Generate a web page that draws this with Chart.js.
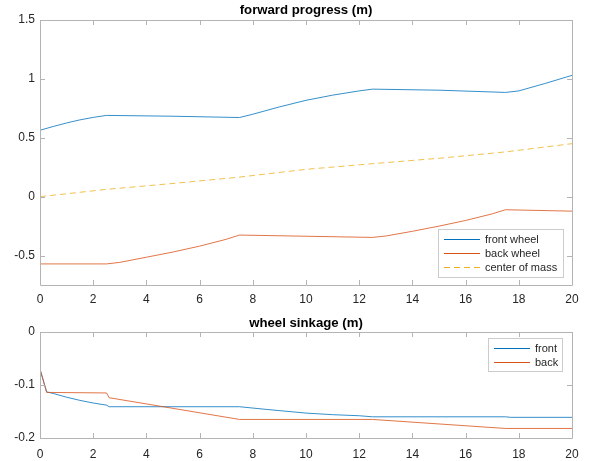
<!DOCTYPE html>
<html lang="en">
<head>
<meta charset="UTF-8">
<title>forward progress / wheel sinkage</title>
<script src="https://cdn.jsdelivr.net/npm/chart.js"></script>
<style>
  body { margin: 0; background: #fff; }
  .fig { position: relative; width: 589px; height: 461px; }
  .fig canvas { position: absolute; left: 0; }
  #progress { top: 0; }
  #sinkage { top: 305px; }
</style>
</head>
<body>
<div class="fig">
  <canvas id="progress" width="589" height="310"></canvas>
  <canvas id="sinkage" width="589" height="156"></canvas>
</div>

<script>
// tick labels
const xTicks = [0, 2, 4, 6, 8, 10, 12, 14, 16, 18, 20];
const progressTicks = [-0.5, 0, 0.5, 1, 1.5];
const sinkTicks = [-0.2, -0.1, 0];

// forward progress (m)
const frontT    = [0, 0.5, 1, 1.5, 2, 2.5, 5, 7.5, 8, 9, 10, 11, 12, 12.5, 15, 17.5, 18, 19, 20];
const frontProg = [0.564, 0.596, 0.626, 0.652, 0.673, 0.69, 0.683, 0.672, 0.70, 0.762, 0.818, 0.862, 0.898, 0.913, 0.904, 0.885, 0.898, 0.962, 1.03];
const backT     = [0, 2.5, 3, 4, 5, 6, 7, 7.5, 10, 12.5, 13, 14, 15, 16, 17, 17.5, 20];
const backProg  = [-0.571, -0.571, -0.558, -0.514, -0.47, -0.42, -0.362, -0.326, -0.336, -0.346, -0.334, -0.294, -0.25, -0.202, -0.146, -0.111, -0.123];
const comT      = [0, 2.5, 5, 7.5, 10, 12.5, 15, 17.5, 20];
const comProg   = [0, 0.062, 0.112, 0.166, 0.232, 0.28, 0.326, 0.38, 0.45];

// wheel sinkage (m)
const frontSinkT = [0, 0.25, 0.5, 1, 1.5, 2, 2.5, 2.6, 7.5, 8.5, 10, 11, 12, 12.5, 17.5, 17.7, 20];
const frontSink  = [-0.07, -0.113, -0.116, -0.123, -0.129, -0.134, -0.138, -0.141, -0.141, -0.146, -0.153, -0.156, -0.158, -0.160, -0.160, -0.161, -0.161];
const backSinkT  = [0, 0.25, 2.5, 2.6, 7.5, 12.5, 17.5, 20];
const backSink   = [-0.07, -0.114, -0.115, -0.124, -0.165, -0.165, -0.182, -0.182];

const BLUE = 'rgb(0,114,189)';
const ORANGE = 'rgb(217,83,25)';
const YELLOW = 'rgb(237,177,32)';
const FONT = '"Liberation Sans", Arial, Helvetica, sans-serif';
const AXIS = '#b4b4b4';
const TEXT = '#262626';

function pts(t, v) {
    return t.map((x, i) => ({ x: x, y: v[i] }));
}

// box, inward ticks, title and legend in the MATLAB style
const matlabAxes = {
    id: 'matlabAxes',
    afterDraw(chart, args, opts) {
        const ctx = chart.ctx;
        const a = chart.chartArea;
        const sx = chart.scales.x, sy = chart.scales.y;
        ctx.save();
        ctx.strokeStyle = AXIS;
        ctx.lineWidth = 1;
        ctx.beginPath();
        ctx.rect(Math.round(a.left) + 0.5, Math.round(a.top) + 0.5,
                 Math.round(a.right - a.left), Math.round(a.bottom - a.top));
        sx.ticks.forEach(t => {
            const px = Math.round(sx.getPixelForValue(t.value)) + 0.5;
            ctx.moveTo(px, a.bottom); ctx.lineTo(px, a.bottom - 5);
            ctx.moveTo(px, a.top); ctx.lineTo(px, a.top + 5);
        });
        sy.ticks.forEach(t => {
            const py = Math.round(sy.getPixelForValue(t.value)) + 0.5;
            ctx.moveTo(a.left, py); ctx.lineTo(a.left + 5, py);
            ctx.moveTo(a.right, py); ctx.lineTo(a.right - 5, py);
        });
        ctx.stroke();

        // title
        ctx.fillStyle = '#000';
        ctx.font = 'bold 13.2px ' + FONT;
        ctx.textAlign = 'center';
        ctx.textBaseline = 'middle';
        ctx.fillText(opts.title, (a.left + a.right) / 2, opts.titleY);

        // legend
        const L = opts.legend;
        ctx.fillStyle = '#fff';
        ctx.fillRect(L.x, L.y, L.w, L.h);
        ctx.strokeStyle = '#cccccc';
        ctx.lineWidth = 1;
        ctx.strokeRect(L.x + 0.5, L.y + 0.5, L.w, L.h);
        ctx.font = '11px ' + FONT;
        ctx.textAlign = 'left';
        chart.data.datasets.forEach((ds, i) => {
            const y = Math.round(L.y + L.firstRow + i * L.rowStep);
            ctx.strokeStyle = ds.borderColor;
            ctx.lineWidth = 1;
            ctx.setLineDash(ds.borderDash || []);
            ctx.beginPath();
            ctx.moveTo(L.x + 6, y + 0.5);
            ctx.lineTo(L.x + 42, y + 0.5);
            ctx.stroke();
            ctx.setLineDash([]);
            ctx.fillStyle = TEXT;
            ctx.fillText(ds.label, L.x + 47, y + 0.5);
        });
        ctx.restore();
    }
};

function scales(yMin, yMax, yTickList, xHeight, xPad) {
    return {
        x: {
            type: 'linear', min: 0, max: 20,
            grid: { display: false, drawTicks: false },
            border: { display: false },
            afterBuildTicks: s => { s.ticks = xTicks.map(v => ({ value: v })); },
            afterFit: s => { s.height = xHeight; },
            ticks: { padding: xPad, color: TEXT, font: { family: FONT, size: 12 }, maxRotation: 0,
                     callback: v => String(v) }
        },
        y: {
            min: yMin, max: yMax,
            grid: { display: false, drawTicks: false },
            border: { display: false },
            afterBuildTicks: s => { s.ticks = yTickList.map(v => ({ value: v })); },
            afterFit: s => { s.width = 40; },
            ticks: { padding: 5, color: TEXT, font: { family: FONT, size: 12 },
                     callback: v => String(v) }
        }
    };
}

function line(label, data, color, order, dash) {
    return {
        label: label, data: data, borderColor: color, backgroundColor: color,
        borderWidth: 0.8, pointRadius: 0, tension: 0, order: order,
        borderDash: dash || []
    };
}

new Chart(document.getElementById('progress'), {
    type: 'line',
    data: {
        datasets: [
            line('front wheel', pts(frontT, frontProg), BLUE, 2),
            line('back wheel', pts(backT, backProg), ORANGE, 1),
            line('center of mass', pts(comT, comProg), YELLOW, 0, [6, 4])
        ]
    },
    options: {
        responsive: false, animation: false,
        layout: { padding: { top: 20, right: 17, left: 0, bottom: 0 } },
        scales: scales(-0.75, 1.5, progressTicks, 25, 7),
        plugins: {
            legend: { display: false }, tooltip: { enabled: false },
            matlabAxes: {
                title: 'forward progress (m)', titleY: 10.5,
                legend: { x: 438, y: 229, w: 125, h: 48, firstRow: 9.5, rowStep: 14 }
            }
        }
    },
    plugins: [matlabAxes]
});

new Chart(document.getElementById('sinkage'), {
    type: 'line',
    data: {
        datasets: [
            line('front', pts(frontSinkT, frontSink), BLUE, 1),
            line('back', pts(backSinkT, backSink), ORANGE, 0)
        ]
    },
    options: {
        responsive: false, animation: false,
        layout: { padding: { top: 27, right: 17, left: 0, bottom: 0 } },
        scales: scales(-0.2, 0, sinkTicks, 23, 9),
        plugins: {
            legend: { display: false }, tooltip: { enabled: false },
            matlabAxes: {
                title: 'wheel sinkage (m)', titleY: 18,
                legend: { x: 488, y: 33, w: 74, h: 33, firstRow: 9.5, rowStep: 14 }
            }
        }
    },
    plugins: [matlabAxes]
});
</script>
</body>
</html>
